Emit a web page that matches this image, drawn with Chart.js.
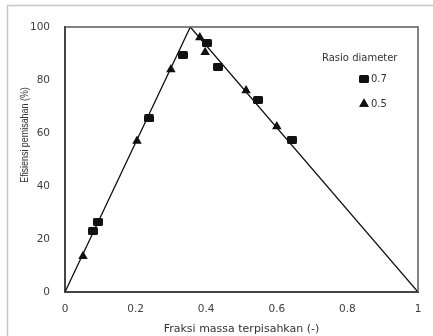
<!DOCTYPE html>
<html>
<head>
<meta charset="utf-8">
<script src="https://cdn.jsdelivr.net/npm/chart.js@4.4.0/dist/chart.umd.min.js"></script>
<style>
  html, body { margin: 0; padding: 0; background: #fff; }
  #wrap { width: 433px; height: 336px; position: relative; }
</style>
</head>
<body>
<div id="wrap"><canvas id="chart" width="433" height="336"></canvas></div>
<script>
/* ---------- data ---------- */
const lineX = [0, 0.355, 1];
const lineY = [0, 100, 0];

// Rasio diameter 0.7 (squares)
const sqX = [0.079, 0.093, 0.238, 0.334, 0.402, 0.433, 0.547, 0.643];
const sqY = [23, 26.5, 65.5, 89.5, 94, 85, 72.5, 57.5];

// Rasio diameter 0.5 (triangles)
const triX = [0.051, 0.204, 0.300, 0.382, 0.397, 0.513, 0.600];
const triY = [13.5, 57, 84, 96, 90.5, 76, 62.5];

const xTicks = [0, 0.2, 0.4, 0.6, 0.8, 1];
const yTicks = [0, 20, 40, 60, 80, 100];

const legendTitle = 'Rasio diameter';
const legendLabels = ['0.7', '0.5'];
const yTitle = 'Efisiensi pemisahan (%)';

const toPoints = (xs, ys) => xs.map((x, i) => ({ x: x, y: ys[i] }));

// slightly wide rounded block used for the 0.7 markers
function makeBlock(w, h) {
  const cv = document.createElement('canvas');
  cv.width = w; cv.height = h;
  const c = cv.getContext('2d');
  c.fillStyle = '#111';
  c.beginPath();
  c.roundRect(0, 0, w, h, 1.5);
  c.fill();
  return cv;
}
const blockMarker = makeBlock(10, 8);

/* ---------- plugin: outer frame, plot box, y title, legend ---------- */
const decor = {
  id: 'decor',
  beforeDraw(chart) {
    const c = chart.ctx;
    c.save();
    c.fillStyle = '#fff';
    c.fillRect(0, 0, chart.width, chart.height);
    c.strokeStyle = '#c8c8c8';
    c.lineWidth = 1.5;
    c.strokeRect(7.5, 5.5, chart.width + 10, chart.height + 10);
    c.restore();
  },
  afterDatasetsDraw(chart) {
    const c = chart.ctx;
    const a = chart.chartArea;
    c.save();
    // plot box (top / right)
    c.strokeStyle = '#5a5a5a';
    c.lineWidth = 1.5;
    c.beginPath();
    c.moveTo(a.left, a.top);
    c.lineTo(a.right, a.top);
    c.lineTo(a.right, a.bottom);
    c.stroke();

    // y axis title (condensed, sits above centre in the original)
    c.save();
    c.translate(25, 135);
    c.rotate(-Math.PI / 2);
    c.scale(0.81, 1);
    c.fillStyle = '#333';
    c.font = '11px "Liberation Sans", Arial, sans-serif';
    c.textAlign = 'center';
    c.textBaseline = 'middle';
    c.fillText(yTitle, 0, 0);
    c.restore();

    // legend
    c.fillStyle = '#333';
    c.font = '10px "DejaVu Sans", Verdana, sans-serif';
    c.textBaseline = 'middle';
    c.textAlign = 'left';
    c.fillText(legendTitle, 322, 58);

    const styles = [chart.data.datasets[1], chart.data.datasets[2]];
    const rows = [79, 104];
    styles.forEach((ds, i) => {
      c.fillStyle = '#111';
      c.beginPath();
      Chart.helpers.drawPoint(c, {
        pointStyle: ds.pointStyle,
        radius: ds.pointRadius,
        borderWidth: 0
      }, 364, rows[i]);
      if (typeof ds.pointStyle === 'string') c.fill();
      c.fillStyle = '#333';
      c.fillText(legendLabels[i], 371, rows[i] + 0.5);
    });
    c.restore();
  }
};

const tickFont = { family: '"DejaVu Sans", Verdana, sans-serif', size: 10.5 };

new Chart(document.getElementById('chart'), {
  type: 'scatter',
  data: {
    datasets: [
      {
        label: 'line',
        data: toPoints(lineX, lineY),
        showLine: true,
        borderColor: '#111',
        borderWidth: 1.3,
        pointRadius: 0,
        tension: 0,
      },
      {
        label: legendLabels[0],
        data: toPoints(sqX, sqY),
        pointStyle: blockMarker,
        pointRadius: 5,
        backgroundColor: '#111',
        borderColor: '#111',
        borderWidth: 0,
      },
      {
        label: legendLabels[1],
        data: toPoints(triX, triY),
        pointStyle: 'triangle',
        pointRadius: 5.5,
        backgroundColor: '#111',
        borderColor: '#111',
        borderWidth: 0,
      },
    ],
  },
  options: {
    responsive: false,
    animation: false,
    layout: { padding: { top: 27, right: 15, left: 0, bottom: 0 } },
    plugins: {
      legend: { display: false },
      tooltip: { enabled: false },
    },
    scales: {
      x: {
        type: 'linear',
        min: 0,
        max: 1,
        afterBuildTicks: s => { s.ticks = xTicks.map(v => ({ value: v })); },
        afterFit: s => { s.height = 44; },
        grid: { display: false, drawTicks: false },
        border: { display: true, color: '#454545', width: 2 },
        ticks: {
          color: '#404040',
          font: tickFont,
          padding: 11,
          maxRotation: 0,
          callback: v => String(v),
        },
        title: {
          display: true,
          text: 'Fraksi massa terpisahkan (-)',
          color: '#333',
          font: { family: '"DejaVu Sans", Verdana, sans-serif', size: 11 },
          padding: { top: 2, bottom: 0 },
        },
      },
      y: {
        type: 'linear',
        min: 0,
        max: 100,
        afterBuildTicks: s => { s.ticks = yTicks.map(v => ({ value: v })); },
        afterFit: s => { s.width = 65; },
        grid: { display: false, drawTicks: false },
        border: { display: true, color: '#454545', width: 2 },
        ticks: {
          color: '#404040',
          font: tickFont,
          padding: 15,
        },
      },
    },
  },
  plugins: [decor],
});
</script>
</body>
</html>
